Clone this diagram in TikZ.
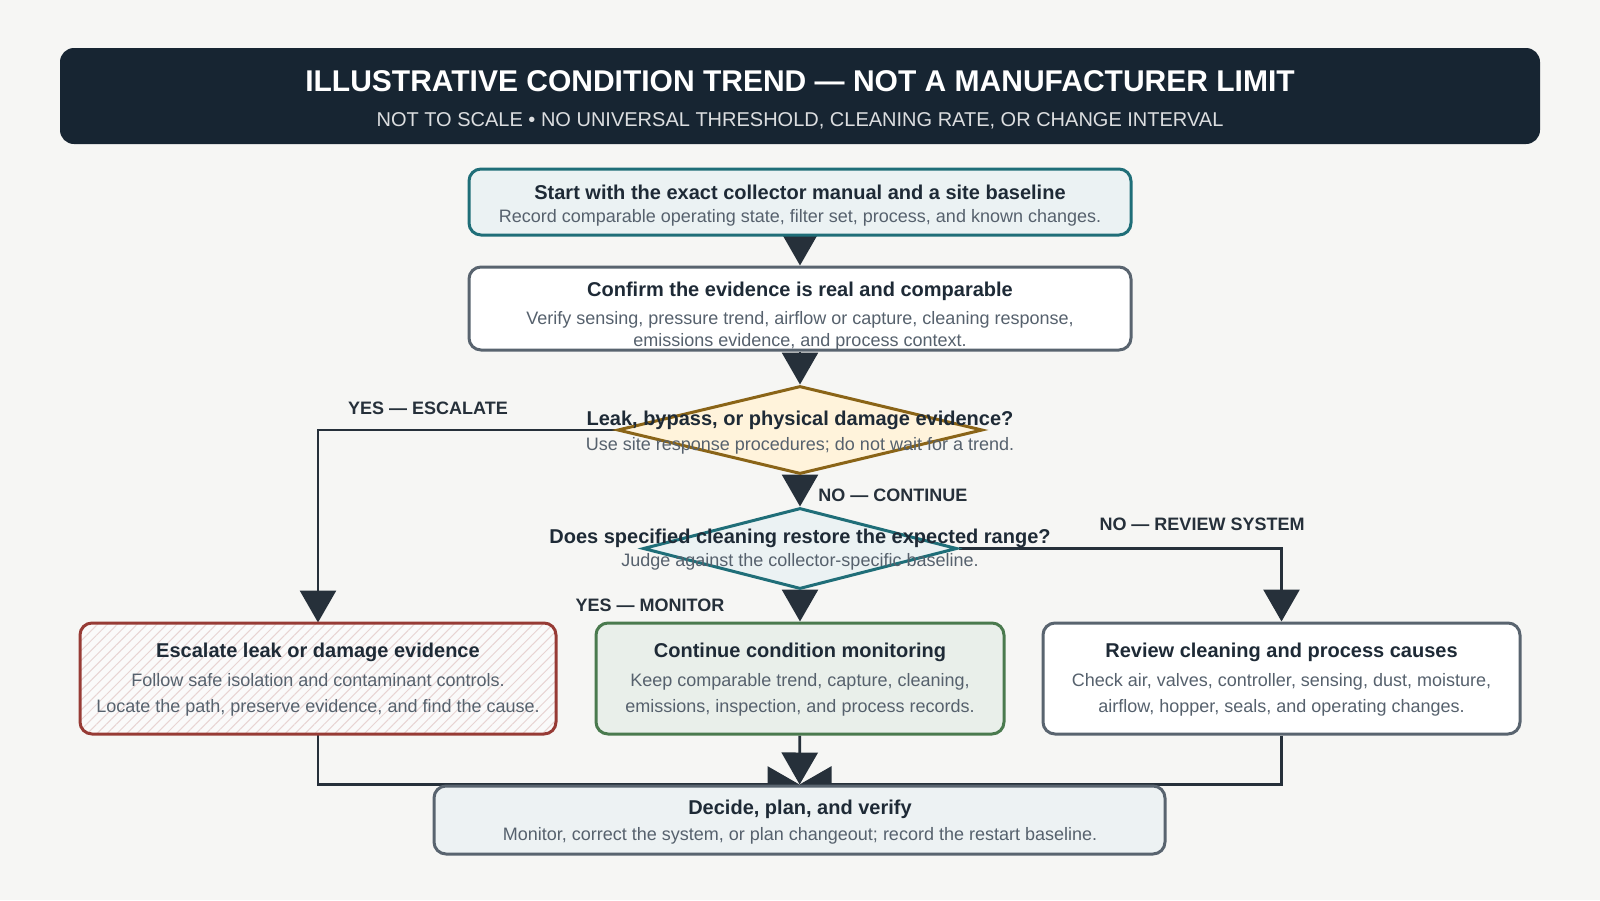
\documentclass[tikz,border=0pt]{standalone}
\usepackage{fontspec}
\setmainfont{Liberation Sans}
\usetikzlibrary{arrows.meta,positioning,shapes.geometric,backgrounds,patterns.meta}
\definecolor{Ink}{HTML}{1E2A36}
\definecolor{Mute}{HTML}{56616D}
\definecolor{Paper}{HTML}{F6F6F4}
\definecolor{Head}{HTML}{172532}
\definecolor{Teal}{HTML}{1F6E78}
\definecolor{Slate}{HTML}{59646F}
\definecolor{Gold}{HTML}{8A6417}
\definecolor{Cream}{HTML}{FFF3DB}
\definecolor{Mist}{HTML}{EDF2F3}
\definecolor{Rust}{HTML}{973B35}
\definecolor{Leaf}{HTML}{4A7A4E}
\definecolor{Wire}{HTML}{26303A}

\begin{document}
\begin{tikzpicture}[x=0.5pt,y=-0.5pt,
    box/.style={rounded corners=6pt,line width=1.5pt,draw=Slate,fill=white,inner sep=0pt},
    dia/.style={diamond,line width=1.5pt,inner sep=0pt},
    ttl/.style={font=\bfseries\fontsize{10}{12}\selectfont,text=Ink,inner sep=0pt},
    sub/.style={font=\fontsize{9}{13.25}\selectfont,text=Mute,align=center,inner sep=0pt},
    tag/.style={font=\bfseries\fontsize{9}{11}\selectfont,text=Wire,inner sep=0pt},
    arr/.style={-{Triangle[length=16pt,width=18pt]},line width=1.4pt,draw=Wire}
  ]
  \useasboundingbox (0,0) rectangle (1600,900);

  % header band
  \node[rounded corners=7pt,fill=Head,minimum width=740pt,minimum height=48pt] (head) at (800,96) {};
  \node[font=\bfseries\fontsize{15}{17}\selectfont,text=white,inner sep=0pt] (headT) at (800,81)
    {ILLUSTRATIVE CONDITION TREND — NOT A MANUFACTURER LIMIT};
  \node[font=\fontsize{10}{12}\selectfont,text=Head!15!white,inner sep=0pt] (headS) at (800,121)
    {NOT TO SCALE • NO UNIVERSAL THRESHOLD, CLEANING RATE, OR CHANGE INTERVAL};

  % boxes and decisions
  \node[box,draw=Teal,fill=Teal!9,minimum width=331pt,minimum height=33pt] (start) at (800,202) {};
  \node[ttl] (startT) at (800,192) {Start with the exact collector manual and a site baseline};
  \node[sub] (startS) at (800,218) {Record comparable operating state, filter set, process, and known changes.};

  \node[box,minimum width=331pt,minimum height=41.5pt] (confirm) at (800,308.5) {};
  \node[ttl] (confirmT) at (800,291) {Confirm the evidence is real and comparable};
  \node[sub,font=\fontsize{9}{11.3}\selectfont] (confirmS) at (800,331)
    {Verify sensing, pressure trend, airflow or capture, cleaning response,\\emissions evidence, and process context.};

  \node[dia,draw=Gold,fill=Cream,minimum width=182.5pt,minimum height=44pt] (leak) at (800,430) {};
  \node[ttl] (leakT) at (800,420) {Leak, bypass, or physical damage evidence?};
  \node[sub] (leakS) at (800,446) {Use site response procedures; do not wait for a trend.};

  \node[dia,draw=Teal,fill=Teal!9,minimum width=157pt,minimum height=40.5pt] (clean) at (800,548.5) {};
  \node[ttl] (cleanT) at (800,538) {Does specified cleaning restore the expected range?};
  \node[sub] (cleanS) at (800,562) {Judge against the collector-specific baseline.};

  \node[box,draw=Rust,preaction={fill=Paper!50!white},
    pattern={Lines[angle=45,distance=3.5pt,line width=0.5pt]},pattern color=Rust!22!white,
    minimum width=238pt,minimum height=55.5pt] (escalate) at (318,678.5) {};
  \node[ttl] (escalateT) at (318,652) {Escalate leak or damage evidence};
  \node[sub] (escalateS) at (318,695)
    {Follow safe isolation and contaminant controls.\\Locate the path, preserve evidence, and find the cause.};

  \node[box,draw=Leaf,fill=Leaf!12!white,minimum width=204pt,minimum height=55.5pt] (monitor) at (800,678.5) {};
  \node[ttl] (monitorT) at (800,652) {Continue condition monitoring};
  \node[sub] (monitorS) at (800,695)
    {Keep comparable trend, capture, cleaning,\\emissions, inspection, and process records.};

  \node[box,minimum width=238.5pt,minimum height=55.5pt] (review) at (1281.5,678.5) {};
  \node[ttl] (reviewT) at (1281.5,652) {Review cleaning and process causes};
  \node[sub] (reviewS) at (1281.5,695)
    {Check air, valves, controller, sensing, dust, moisture,\\airflow, hopper, seals, and operating changes.};

  \node[box,fill=Mist,minimum width=365.5pt,minimum height=34pt] (decide) at (799.5,820) {};
  \node[ttl] (decideT) at (800,809) {Decide, plan, and verify};
  \node[sub] (decideS) at (800,836) {Monitor, correct the system, or plan changeout; record the restart baseline.};

  % branch tags
  \node[tag] (tagEsc) at (428,408) {YES — ESCALATE};
  \node[tag,anchor=west] (tagCont) at (818,495) {NO — CONTINUE};
  \node[tag] (tagRev) at (1202,524) {NO — REVIEW SYSTEM};
  \node[tag] (tagMon) at (650,605) {YES — MONITOR};

  % connectors
  \begin{pgfonlayer}{background}
    \fill[Paper] (0,0) rectangle (1600,900);
    \draw[arr] (start) -- (confirm);
    \draw[arr] (confirm) -- (leak);
    \draw[arr] (leak) -- (clean);
    \draw[arr] (clean) -- (monitor);
    \draw[arr] (leak.west) -| (escalate.north);
    \draw[arr] (clean.east) -| (review.north);
    \draw[arr] (monitor) -- (decide);
    \draw[arr] (escalate.south) |- (decide.north);
    \draw[arr] (review.south) |- (decide.north);
  \end{pgfonlayer}
\end{tikzpicture}
\end{document}
